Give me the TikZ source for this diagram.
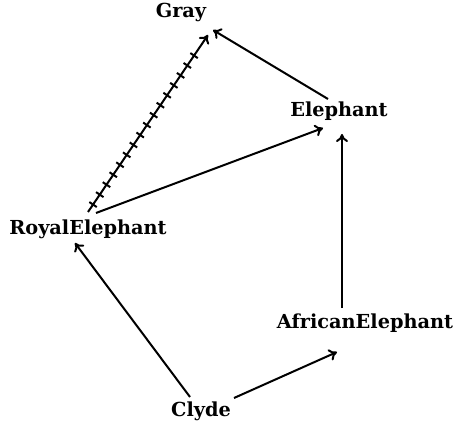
\documentclass[tikz,border=0pt]{standalone}
\usepackage{fontspec}
\setmainfont{DejaVu Serif}
\usepackage{tikz}
\usetikzlibrary{arrows.meta,decorations.markings,calc}

\tikzset{
  cls/.style={inner sep=2pt, font=\fontsize{19.3}{22}\selectfont\bfseries},
  isa/.style={line width=2pt, -{To[length=8pt,width=12pt,line width=2pt]}},
  notisa/.style={isa, postaction={decorate}, decoration={markings,
      mark=between positions 9pt and -14pt step 12pt with {\draw[-,line width=2pt] (0,-4.5pt) -- (0,4.5pt);}}}
}

\begin{document}
\begin{tikzpicture}[x=1pt,y=1pt,yscale=-1,xscale=1]
    \useasboundingbox (0,0) rectangle (453,425);

    % Text Node
    \node[cls] (gray) at (181,12) {Gray};
    % Text Node
    \node[cls] (elephant) at (339,111) {Elephant};
    % Text Node
    \node[cls] (royal) at (88,229) {RoyalElephant};
    % Text Node
    \node[cls] (african) at (365,323) {AfricanElephant};
    % Text Node
    \node[cls] (clyde) at (201,411) {Clyde};

    %Straight Lines
    \draw[isa] ($(elephant)+(-11,-12)$) -- ($(gray)+(32,18)$);
    \draw[notisa] ($(royal)+(0,-17)$) -- ($(gray)+(27,23)$);
    \draw[isa] ($(royal)+(8,-16)$) -- ($(elephant)+(-16,17)$);
    \draw[isa] ($(clyde)+(-11,-14)$) -- ($(royal)+(-13,14)$);
    \draw[isa] ($(clyde)+(33,-13)$) -- ($(african)+(-28,29)$);
    \draw[isa] ($(african)+(-23,-15)$) -- ($(elephant)+(3,23)$);

\end{tikzpicture}
\end{document}
